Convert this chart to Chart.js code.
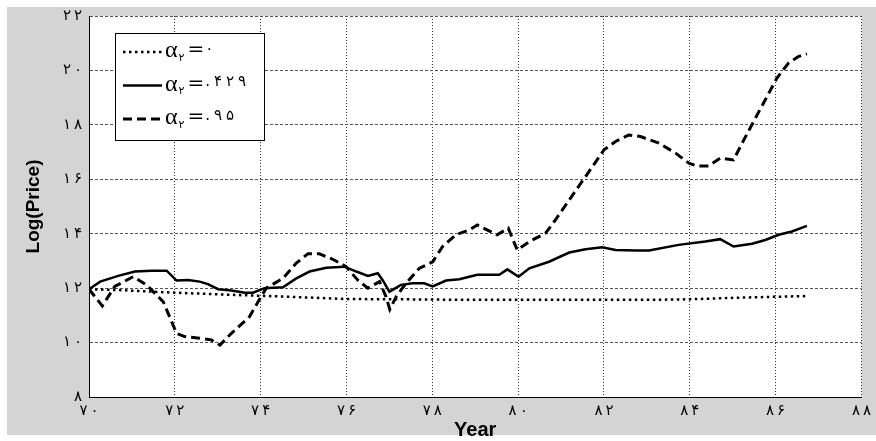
<!DOCTYPE html>
<html>
<head>
<meta charset="utf-8">
<script src="https://cdn.jsdelivr.net/npm/chart.js@4.4.0/dist/chart.umd.min.js"></script>
<style>
  html, body { margin: 0; padding: 0; background: #fff; }
  canvas { display: block; }
</style>
</head>
<body>
<canvas id="grafico" width="876" height="441"></canvas>
<script>
// alpha2 = 0 (dotted)
const yearsA0 = [70, 70.68, 72.04, 73.40, 74.56, 75.99, 77.31, 78.86, 83.05, 83.98, 85.14, 86.73];
const priceA0 = [11.96, 11.93, 11.83, 11.75, 11.69, 11.60, 11.59, 11.57, 11.57, 11.59, 11.65, 11.71];

// alpha2 = .429 (solid)
const yearsA429 = [70, 70.26, 70.68, 71.07, 71.46, 71.81, 72.04, 72.31, 72.58, 72.77, 73.01, 73.32, 73.63, 73.82,
  74.09, 74.52, 74.83, 75.14, 75.53, 75.95, 76.23, 76.50, 76.73, 76.84, 77.0, 77.27, 77.54, 77.81, 78.01, 78.32,
  78.63, 78.86, 79.05, 79.56, 79.75, 80.01, 80.26, 80.72, 81.19, 81.57, 81.96, 82.27, 82.74, 83.05, 83.74, 84.36,
  84.71, 85.02, 85.45, 85.76, 86.07, 86.38, 86.73];
const priceA429 = [11.96, 12.24, 12.45, 12.61, 12.64, 12.64, 12.28, 12.30, 12.24, 12.15, 11.96, 11.91, 11.83, 11.83,
  12.0, 12.03, 12.36, 12.61, 12.75, 12.79, 12.61, 12.45, 12.55, 12.30, 11.87, 12.12, 12.18, 12.18, 12.06, 12.28,
  12.33, 12.42, 12.49, 12.49, 12.69, 12.42, 12.73, 12.97, 13.31, 13.43, 13.50, 13.40, 13.38, 13.38, 13.59, 13.71,
  13.80, 13.53, 13.63, 13.77, 13.96, 14.08, 14.29];

// alpha2 = .95 (dashed)
const yearsA95 = [70, 70.31, 70.60, 71.03, 71.34, 71.73, 72.04, 72.23, 72.58, 72.85, 73.05, 73.32, 73.74, 73.94,
  74.13, 74.52, 74.83, 75.10, 75.37, 75.68, 75.99, 76.26, 76.50, 76.77, 76.92, 77.01, 77.16, 77.39, 77.70, 78.01,
  78.24, 78.55, 78.86, 79.05, 79.51, 79.77, 79.98, 80.26, 80.64, 80.87, 81.19, 81.57, 82.0, 82.27, 82.58, 82.85,
  83.28, 83.67, 83.98, 84.17, 84.44, 84.71, 85.02, 85.22, 85.53, 85.80, 86.03, 86.30, 86.53, 86.73];
const priceA95 = [11.96, 11.35, 12.06, 12.42, 12.12, 11.50, 10.34, 10.22, 10.16, 10.10, 9.91, 10.34, 10.95, 11.50,
  12.0, 12.36, 12.92, 13.26, 13.26, 13.06, 12.79, 12.30, 12.0, 12.24, 11.69, 11.22, 11.69, 12.18, 12.73, 12.97,
  13.53, 13.96, 14.14, 14.32, 13.96, 14.20, 13.40, 13.71, 14.02, 14.51, 15.24, 16.10, 17.08, 17.39, 17.63, 17.57,
  17.33, 16.96, 16.59, 16.49, 16.49, 16.78, 16.71, 17.33, 18.25, 19.04, 19.72, 20.27, 20.51, 20.61];

const xTickLabels = ['۷۰', '۷۲', '۷۴', '۷۶', '۷۸', '۸۰', '۸۲', '۸۴', '۸۶', '۸۸'];
const yTickLabels = ['۸', '۱۰', '۱۲', '۱۴', '۱۶', '۱۸', '۲۰', '۲۲'];
const legendValues = ['۰', '.۴۲۹', '.۹۵'];

const pts = (xs, ys) => xs.map((x, i) => ({ x: x, y: ys[i] }));
const spaced = s => s.split('').join('\u2009');

const fondo = {
  id: 'fondo',
  beforeDraw(chart) {
    const { ctx, chartArea: a } = chart;
    ctx.save();
    ctx.fillStyle = '#fff';
    ctx.fillRect(0, 0, chart.width, chart.height);
    ctx.fillStyle = '#d4d4d4';
    ctx.fillRect(7, 7, chart.width - 7, 428);
    ctx.fillStyle = '#fff';
    ctx.fillRect(a.left, a.top, a.right - a.left, a.bottom - a.top);
    ctx.restore();
  }
};

const leyenda = {
  id: 'leyenda',
  afterDatasetsDraw(chart) {
    const ctx = chart.ctx;
    const bx = 115, by = 33, bw = 149, bh = 107;
    ctx.save();
    ctx.fillStyle = '#fff';
    ctx.fillRect(bx, by, bw, bh);
    ctx.strokeStyle = '#000';
    ctx.lineWidth = 1;
    ctx.strokeRect(bx + 0.5, by + 0.5, bw, bh);
    chart.data.datasets.forEach((ds, i) => {
      const ly = by + 19 + i * 33.5;
      ctx.setLineDash(ds.borderDash || []);
      ctx.lineWidth = ds.borderWidth;
      ctx.strokeStyle = ds.borderColor;
      ctx.beginPath();
      ctx.moveTo(123, ly);
      ctx.lineTo(162, ly);
      ctx.stroke();
      ctx.setLineDash([]);
      ctx.fillStyle = '#000';
      ctx.textAlign = 'left';
      ctx.textBaseline = 'middle';
      let tx = 165;
      ctx.font = '24px "Liberation Serif"';
      ctx.fillText('α', tx, ly - 1);
      tx += ctx.measureText('α').width + 1;
      ctx.font = '11px "DejaVu Sans"';
      ctx.fillText('۲', tx, ly + 6);
      tx += ctx.measureText('۲').width + 3;
      ctx.font = '20px "DejaVu Sans"';
      ctx.fillText('=', tx, ly - 2);
      tx += ctx.measureText('=').width + 1;
      ctx.font = '15px "DejaVu Sans"';
      legendValues[i].split('').forEach(ch => {
        ctx.fillText(ch, tx, ly - 3);
        tx += ctx.measureText(ch).width + 4;
      });
    });
    ctx.restore();
  }
};

const ctx = document.getElementById('grafico');

new Chart(ctx, {
  type: 'line',
  data: {
    datasets: [{
      label: 'α2=0',
      data: pts(yearsA0, priceA0),
      borderColor: '#000',
      borderWidth: 2.5,
      borderDash: [2.5, 3.5],
      pointRadius: 0,
      tension: 0
    }, {
      label: 'α2=.429',
      data: pts(yearsA429, priceA429),
      borderColor: '#000',
      borderWidth: 2.5,
      pointRadius: 0,
      tension: 0
    }, {
      label: 'α2=.95',
      data: pts(yearsA95, priceA95),
      borderColor: '#000',
      borderWidth: 3,
      borderDash: [9, 5],
      pointRadius: 0,
      tension: 0
    }]
  },
  options: {
    responsive: false,
    animation: false,
    layout: { padding: { left: 0, right: 13, top: 16, bottom: 0 } },
    plugins: {
      legend: { display: false },
      tooltip: { enabled: false }
    },
    scales: {
      x: {
        type: 'linear',
        min: 70,
        max: 88,
        afterFit: s => { s.height = 44; },
        ticks: {
          stepSize: 2,
          padding: 5,
          color: '#000',
          font: { family: 'DejaVu Sans', size: 15 },
          maxRotation: 0,
          callback: v => spaced(xTickLabels[(v - 70) / 2])
        },
        grid: { color: '#333', drawTicks: false, lineWidth: 1 },
        border: { display: true, color: '#000', width: 1, dash: [1, 2] },
        title: {
          display: true,
          text: 'Year',
          color: '#000',
          font: { family: 'Liberation Sans', size: 20, weight: 'bold' },
          padding: { top: 0, bottom: -1 }
        }
      },
      y: {
        min: 8,
        max: 22,
        afterFit: s => { s.width = 89; },
        ticks: {
          stepSize: 2,
          padding: 7,
          color: '#000',
          font: { family: 'DejaVu Sans', size: 15 },
          callback: v => spaced(yTickLabels[(v - 8) / 2])
        },
        grid: { color: '#555', drawTicks: false, lineWidth: 1 },
        border: { display: true, color: '#000', width: 1, dash: [3, 2] },
        title: {
          display: true,
          text: 'Log(Price)',
          color: '#000',
          font: { family: 'Liberation Sans', size: 19, weight: 'bold' },
          padding: { top: 22, bottom: 0 }
        }
      }
    }
  },
  plugins: [fondo, leyenda]
});
</script>
</body>
</html>
